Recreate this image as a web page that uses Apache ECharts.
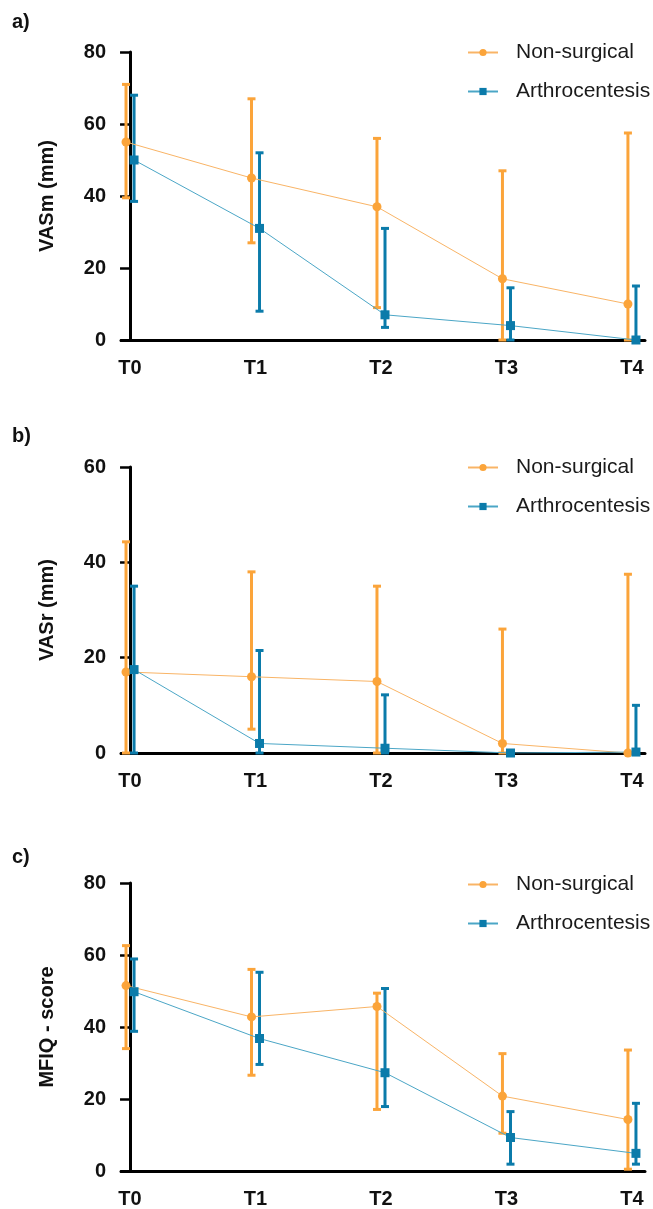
<!DOCTYPE html>
<html>
<head>
<meta charset="utf-8">
<script src="https://cdn.jsdelivr.net/npm/echarts@6/dist/echarts.min.js"></script>
<style>
  html, body { margin: 0; padding: 0; background: #fff; }
  #main { width: 653px; height: 1209px; }
</style>
</head>
<body>
<div id="main"></div>
<script>
const categories = ['T0', 'T1', 'T2', 'T3', 'T4'];
const seriesNames = ['Non-surgical', 'Arthrocentesis'];

// a) VASm (mm)
const vasmNonMean = [55, 45, 37, 17, 10];
const vasmNonLow = [39.5, 27, 9, 0, 0];
const vasmNonHigh = [71, 67, 56, 47, 57.5];
const vasmArthMean = [50, 31, 7, 4, 0];
const vasmArthLow = [38.5, 8, 3.5, 0, 0];
const vasmArthHigh = [68, 52, 31, 14.5, 15];

// b) VASr (mm)
const vasrNonMean = [17, 16, 15, 2, 0];
const vasrNonLow = [0, 5, 0, 0, 0];
const vasrNonHigh = [44.3, 38, 35, 26, 37.5];
const vasrArthMean = [17.5, 2, 1, 0, 0.2];
const vasrArthLow = [0, 0, 0, 0, 0];
const vasrArthHigh = [35, 21.5, 12.2, 0.5, 10];

// c) MFIQ - score
const mfiqNonMean = [51.5, 42.8, 45.7, 20.8, 14.3];
const mfiqNonLow = [34, 26.6, 17.1, 10.5, 0.5];
const mfiqNonHigh = [62.6, 56, 49.4, 32.6, 33.6];
const mfiqArthMean = [49.8, 36.8, 27.3, 9.3, 4.9];
const mfiqArthLow = [38.8, 29.6, 17.9, 1.9, 1.9];
const mfiqArthHigh = [58.9, 55.2, 50.7, 16.5, 18.8];

const panels = [
  { label: 'a)', yName: 'VASm (mm)', yMax: 80, top: 52, height: 288, labelTop: 12, legendTop: 42,
    non: [vasmNonMean, vasmNonLow, vasmNonHigh], arth: [vasmArthMean, vasmArthLow, vasmArthHigh] },
  { label: 'b)', yName: 'VASr (mm)', yMax: 60, top: 467, height: 286, labelTop: 426, legendTop: 457,
    non: [vasrNonMean, vasrNonLow, vasrNonHigh], arth: [vasrArthMean, vasrArthLow, vasrArthHigh] },
  { label: 'c)', yName: 'MFIQ - score', yMax: 80, top: 883, height: 289, labelTop: 847, legendTop: 874,
    non: [mfiqNonMean, mfiqNonLow, mfiqNonHigh], arth: [mfiqArthMean, mfiqArthLow, mfiqArthHigh] },
];

const FONT = "'Liberation Sans', Arial, Helvetica, sans-serif";
const ORANGE = '#FBA43A';
const ORANGE_LINE = '#F9B466';
const BLUE = '#0B7BAA';
const BLUE_LINE = '#4BA6C6';
const DODGE = 0.032;

const errorBar = (params, api) => {
  const x = api.value(0);
  const lo = api.coord([x, api.value(1)]);
  const hi = api.coord([x, api.value(2)]);
  const w = 4;
  const style = { stroke: api.visual('color'), lineWidth: 3 };
  return {
    type: 'group',
    children: [
      { type: 'line', shape: { x1: hi[0], y1: hi[1], x2: lo[0], y2: lo[1] }, style },
      { type: 'line', shape: { x1: hi[0] - w, y1: hi[1], x2: hi[0] + w, y2: hi[1] }, style },
      { type: 'line', shape: { x1: lo[0] - w, y1: lo[1], x2: lo[0] + w, y2: lo[1] }, style },
    ],
  };
};

const chart = echarts.init(document.getElementById('main'), null, { renderer: 'canvas' });

const options = {
  animation: false,
  backgroundColor: '#fff',
  title: [],
  legend: [],
  grid: [],
  xAxis: [],
  yAxis: [],
  series: [],
};

panels.forEach((p, i) => {
  options.title.push({
    text: p.label,
    left: 12,
    top: p.labelTop,
    padding: 0,
    textStyle: { fontFamily: FONT, fontSize: 20, fontWeight: 'bold', color: '#111' },
  });
  options.legend.push({
    orient: 'vertical',
    left: 467,
    top: p.legendTop,
    padding: 0,
    itemWidth: 30,
    itemHeight: 9,
    itemGap: 18,
    textStyle: { fontFamily: FONT, fontSize: 21, color: '#1a1a1a', padding: [0, 0, 0, 13] },
    data: seriesNames,
  });
  options.grid.push({ left: 121, width: 524, top: p.top, height: p.height });
  options.xAxis.push({
    type: 'value',
    gridIndex: i,
    min: -0.072,
    max: 4.104,
    splitLine: { show: false },
    axisTick: { show: false },
    axisLine: { show: true, onZero: false, lineStyle: { color: '#000', width: 3 } },
    axisLabel: {
      customValues: [0, 1, 2, 3, 4],
      formatter: (v) => categories[Math.round(v)],
      fontFamily: FONT, fontSize: 20, fontWeight: 'bold', color: '#111', margin: 18,
    },
  });
  options.yAxis.push({
    type: 'value',
    gridIndex: i,
    min: 0,
    max: p.yMax,
    interval: 20,
    name: p.yName,
    nameLocation: 'middle',
    nameGap: 64,
    nameTextStyle: { fontFamily: FONT, fontSize: 20, fontWeight: 'bold', color: '#111' },
    splitLine: { show: false },
    axisLine: { show: true, lineStyle: { color: '#000', width: 3 } },
    axisTick: { show: true, length: 10, lineStyle: { color: '#000', width: 2.5 } },
    axisLabel: { fontFamily: FONT, fontSize: 20, fontWeight: 'bold', color: '#111', margin: 15 },
  });

  const groups = [
    { name: seriesNames[0], d: p.non, off: -DODGE, color: ORANGE, line: ORANGE_LINE, symbol: 'circle' },
    { name: seriesNames[1], d: p.arth, off: DODGE, color: BLUE, line: BLUE_LINE, symbol: 'rect' },
  ];
  groups.forEach((g) => {
    options.series.push({
      type: 'custom',
      name: g.name + ' SD',
      xAxisIndex: i,
      yAxisIndex: i,
      itemStyle: { color: g.color },
      renderItem: errorBar,
      encode: { x: 0, y: [1, 2] },
      data: categories.map((c, k) => [k + g.off, g.d[1][k], g.d[2][k]]),
      z: 2,
    });
  });
  groups.forEach((g) => {
    options.series.push({
      type: 'line',
      name: g.name,
      xAxisIndex: i,
      yAxisIndex: i,
      symbol: g.symbol,
      symbolSize: 9,
      itemStyle: { color: g.color },
      lineStyle: { color: g.line, width: 1 },
      data: categories.map((c, k) => [k + g.off, g.d[0][k]]),
      z: 3,
    });
  });
});

chart.setOption(options);
</script>
</body>
</html>
